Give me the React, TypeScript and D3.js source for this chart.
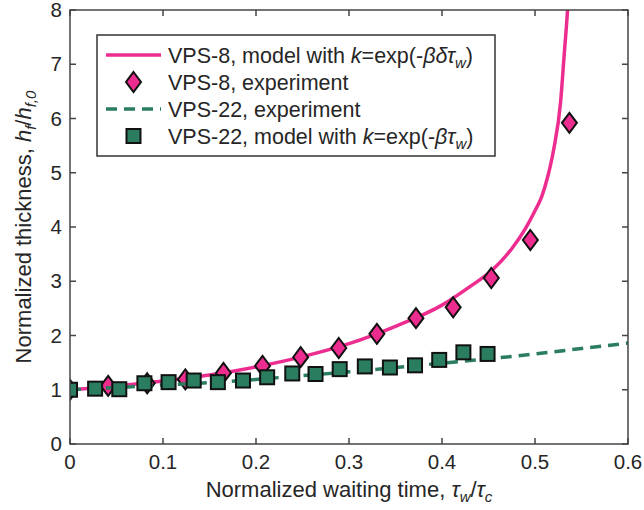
import * as React from "react";
import { scaleLinear, line, curveMonotoneX } from "d3";

// VPS-8 experiment (diamonds)
const vps8X = [0, 0.041, 0.083, 0.124, 0.165, 0.207, 0.248, 0.289, 0.330, 0.372, 0.412, 0.453, 0.495, 0.537];
const vps8Y = [1.0, 1.07, 1.12, 1.19, 1.31, 1.44, 1.60, 1.77, 2.03, 2.32, 2.52, 3.06, 3.76, 5.92];

// VPS-22 (squares)
const vps22X = [0, 0.027, 0.053, 0.080, 0.106, 0.133, 0.159, 0.186, 0.212, 0.239, 0.264, 0.290, 0.317, 0.344, 0.371, 0.397, 0.423, 0.449];
const vps22Y = [1.0, 1.02, 1.01, 1.12, 1.14, 1.17, 1.14, 1.17, 1.23, 1.30, 1.29, 1.38, 1.43, 1.41, 1.45, 1.55, 1.69, 1.66];

// model curves
const modelPinkX = [0, 0.05, 0.1, 0.15, 0.2, 0.25, 0.3, 0.35, 0.4, 0.43, 0.455, 0.475, 0.49, 0.5, 0.507, 0.514, 0.52, 0.5275, 0.5315, 0.535, 0.537];
const modelPinkY = [1.0, 1.07, 1.16, 1.27, 1.42, 1.61, 1.85, 2.17, 2.56, 2.9, 3.22, 3.6, 3.98, 4.3, 4.55, 4.95, 5.42, 6.3, 7.2, 8.0, 8.6];
const modelGreenX = [0, 0.05, 0.1, 0.15, 0.2, 0.25, 0.3, 0.35, 0.4, 0.45, 0.5, 0.55, 0.6];
const modelGreenY = [1.0, 1.04, 1.09, 1.13, 1.19, 1.26, 1.33, 1.41, 1.49, 1.57, 1.66, 1.76, 1.86];

const xTicks = [0, 0.1, 0.2, 0.3, 0.4, 0.5, 0.6];
const yTicks = [0, 1, 2, 3, 4, 5, 6, 7, 8];

const pink = "#ec2d8f";
const green = "#2b7d5f";
const axisColor = "#454545";
const textColor = "#262626";
const font = "'Liberation Sans', Arial, Helvetica, sans-serif";
const tickFs = 20.5;
const legendFs = 21.5;
const labelFs = 22;
const subFs = 15;

const W = 644, H = 510;
const m = { left: 70, right: 16, top: 10, bottom: 66 };

const App: React.FC = () => {
    const x = scaleLinear().domain([0, 0.6]).range([m.left, W - m.right]);
    const y = scaleLinear().domain([0, 8]).range([H - m.bottom, m.top]);
    const [x0, x1] = x.range();
    const [y0, y1] = y.range();

    const path = line<[number, number]>()
        .x(d => x(d[0]))
        .y(d => y(d[1]))
        .curve(curveMonotoneX);

    const pinkPts = modelPinkX.map((v, i) => [v, modelPinkY[i]] as [number, number]);
    const greenPts = modelGreenX.map((v, i) => [v, modelGreenY[i]] as [number, number]);

    const diamond = (cx: number, cy: number) =>
        `M${cx},${cy - 10}L${cx + 7.5},${cy}L${cx},${cy + 10}L${cx - 7.5},${cy}Z`;

    const lg = { x: 97, y: 35, w: 398, h: 121, row: 27 };
    const rowY = (i: number) => lg.y + 20 + i * lg.row;
    const sampleX0 = 106, sampleX1 = 161, textX = 168;

    return (
        <svg width={W} height={H} style={{ position: "absolute", left: 0, top: 0, background: "#fff" }}
             fontFamily={font} fill={textColor}>
            <defs>
                <clipPath id="plot">
                    <rect x={x0} y={y1} width={x1 - x0} height={y0 - y1}/>
                </clipPath>
            </defs>

            {/* ticks, inward on all four sides */}
            {xTicks.map(t => (
                <g key={"xt" + t} stroke={axisColor} strokeWidth={1.5}>
                    <line x1={x(t)} x2={x(t)} y1={y0} y2={y0 - 6}/>
                    <line x1={x(t)} x2={x(t)} y1={y1} y2={y1 + 6}/>
                </g>
            ))}
            {yTicks.map(t => (
                <g key={"yt" + t} stroke={axisColor} strokeWidth={1.5}>
                    <line x1={x0} x2={x0 + 6} y1={y(t)} y2={y(t)}/>
                    <line x1={x1} x2={x1 - 6} y1={y(t)} y2={y(t)}/>
                </g>
            ))}

            <g clipPath="url(#plot)">
                <path d={path(pinkPts) || ""} fill="none" stroke={pink} strokeWidth={3.5}/>
                {vps8X.map((v, i) => (
                    <path key={"d" + i} d={diamond(x(v), y(vps8Y[i]))} fill={pink} stroke="#111" strokeWidth={2}/>
                ))}
                <path d={path(greenPts) || ""} fill="none" stroke={green} strokeWidth={3.5} strokeDasharray="11,7"/>
                {vps22X.map((v, i) => (
                    <rect key={"s" + i} x={x(v) - 7} y={y(vps22Y[i]) - 7} width={14} height={14}
                          fill={green} stroke="#111" strokeWidth={2}/>
                ))}
            </g>

            <rect x={x0} y={y1} width={x1 - x0} height={y0 - y1} fill="none" stroke={axisColor} strokeWidth={1.5}/>

            {xTicks.map(t => (
                <text key={"xl" + t} x={x(t)} y={y0 + 25} textAnchor="middle" fontSize={tickFs}>{t === 0 ? "0" : t.toFixed(1)}</text>
            ))}
            {yTicks.map(t => (
                <text key={"yl" + t} x={x0 - 8} y={y(t) + 7} textAnchor="end" fontSize={tickFs}>{t}</text>
            ))}

            <text x={(x0 + x1) / 2} y={497} textAnchor="middle" fontSize={labelFs}>
                Normalized waiting time, <tspan fontStyle="italic">τ</tspan>
                <tspan fontStyle="italic" fontSize={subFs} dy={5}>w</tspan>
                <tspan dy={-5}>/</tspan><tspan fontStyle="italic">τ</tspan>
                <tspan fontStyle="italic" fontSize={subFs} dy={5}>c</tspan>
            </text>
            <text transform={`translate(31,${(y0 + y1) / 2}) rotate(-90)`} textAnchor="middle" fontSize={labelFs}>
                Normalized thickness, <tspan fontStyle="italic">h</tspan>
                <tspan fontStyle="italic" fontSize={subFs} dy={5}>f</tspan>
                <tspan dy={-5}>/</tspan><tspan fontStyle="italic">h</tspan>
                <tspan fontStyle="italic" fontSize={subFs} dy={5}>f,0</tspan>
            </text>

            {/* legend */}
            <rect x={lg.x} y={lg.y} width={lg.w} height={lg.h} fill="#fff" stroke="#333" strokeWidth={1.5}/>
            <line x1={sampleX0} x2={sampleX1} y1={rowY(0)} y2={rowY(0)} stroke={pink} strokeWidth={3.5}/>
            <path d={diamond((sampleX0 + sampleX1) / 2, rowY(1))} fill={pink} stroke="#111" strokeWidth={2}/>
            <line x1={sampleX0} x2={sampleX1} y1={rowY(2)} y2={rowY(2)} stroke={green} strokeWidth={3.5} strokeDasharray="11,7"/>
            <rect x={(sampleX0 + sampleX1) / 2 - 7} y={rowY(3) - 7} width={14} height={14} fill={green} stroke="#111" strokeWidth={2}/>

            <text x={textX} y={rowY(0) + 7.5} fontSize={legendFs}>
                VPS-8, model with <tspan fontStyle="italic">k</tspan>=exp(-<tspan fontStyle="italic">βδτ</tspan>
                <tspan fontStyle="italic" fontSize={subFs} dy={5}>w</tspan><tspan dy={-5}>)</tspan>
            </text>
            <text x={textX} y={rowY(1) + 7.5} fontSize={legendFs}>VPS-8, experiment</text>
            <text x={textX} y={rowY(2) + 7.5} fontSize={legendFs}>VPS-22, experiment</text>
            <text x={textX} y={rowY(3) + 7.5} fontSize={legendFs}>
                VPS-22, model with <tspan fontStyle="italic">k</tspan>=exp(-<tspan fontStyle="italic">βτ</tspan>
                <tspan fontStyle="italic" fontSize={subFs} dy={5}>w</tspan><tspan dy={-5}>)</tspan>
            </text>
        </svg>
    );
};

export default App;
